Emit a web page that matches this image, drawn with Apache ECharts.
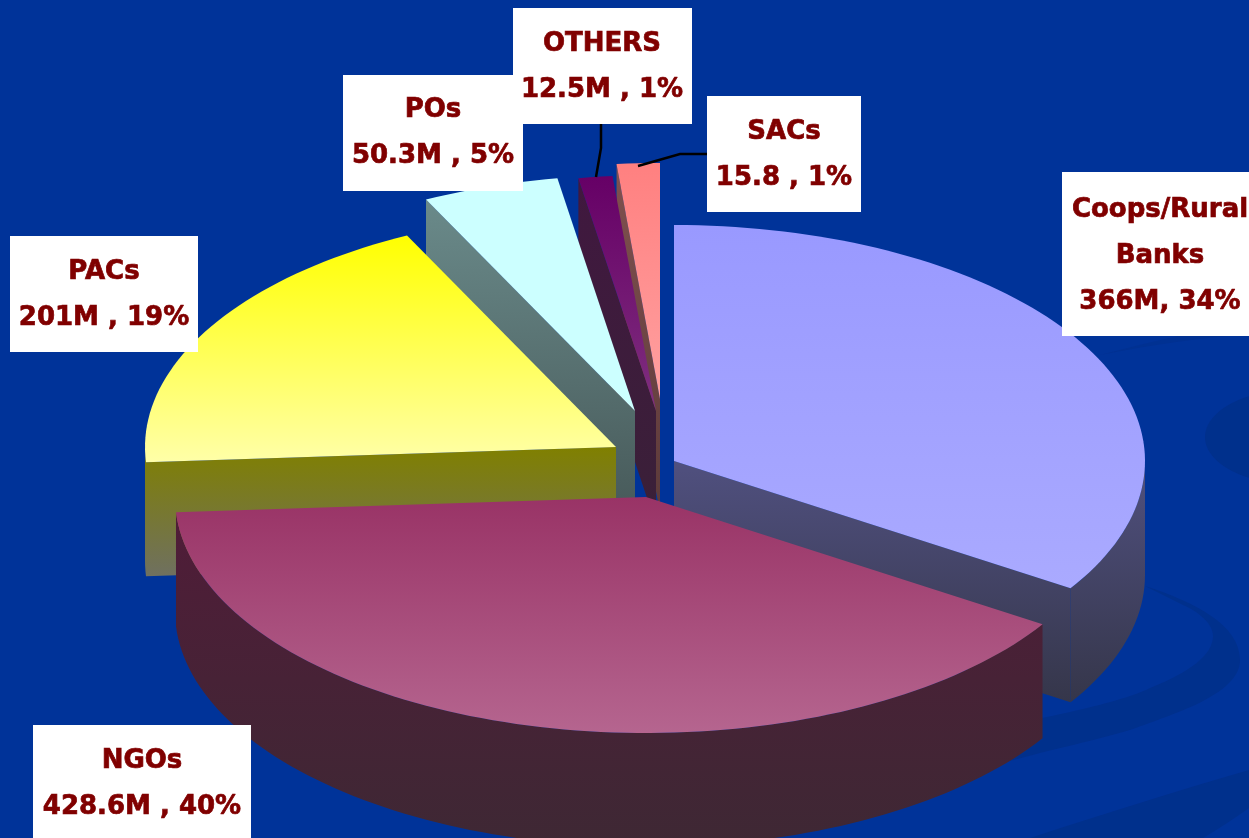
<!DOCTYPE html>
<html>
<head>
<meta charset="utf-8">
<title>Pie</title>
<script src="https://cdn.jsdelivr.net/npm/echarts@6/dist/echarts.min.js"></script>
<style>
html, body { margin: 0; padding: 0; background: #003399; overflow: hidden; }
#chart { width: 1249px; height: 838px; }
</style>
</head>
<body>
<div id="chart"></div>
<script>
// data, clockwise from 12 o'clock
var sliceNames = ['Coops/Rural Banks', 'NGOs', 'PACs', 'POs', 'OTHERS', 'SACs'];
var sliceValues = [366, 428.6, 201, 50.3, 12.5, 15.8];

var labelTitles = [['Coops/Rural', 'Banks'], ['NGOs'], ['PACs'], ['POs'], ['OTHERS'], ['SACs']];
var labelValues = ['366M, 34%', '428.6M , 40%', '201M , 19%', '50.3M , 5%', '12.5M , 1%', '15.8 , 1%'];

// look of the pie
var sliceCenters = [[674, 461], [646, 497], [616, 447], [635, 411], [656, 411], [660, 399]];
var sliceLayers = [4, 5, 3, 2, 1, 0];
var topColors = [['#9999ff', '#aaaaff'], ['#993366', '#b5658f'], ['#ffff00', '#ffffa8'], ['#ccffff', '#ccffff'], ['#660066', '#7f2f7f'], ['#ff8080', '#ffa0a0']];
var sideColors = [['#50507f', '#35364a'], ['#501c38', '#3e2834'], ['#808000', '#6f7060'], ['#6a8a8a', '#465858'], ['#40183f', '#3a2038'], ['#80504f', '#5c3a3a']];
var radiusX = 471, radiusY = 236, depth = 114;

// label boxes: x, y, w, h, center x, first line y
var labelBoxes = [
    [1062, 172, 200, 164, 1160, 210],
    [33, 725, 218, 120, 142, 761],
    [10, 236, 188, 116, 104, 272],
    [343, 75, 180, 116, 433, 110],
    [513, 8, 179, 116, 602, 44],
    [707, 96, 154, 116, 784, 132]
];
var lineGap = 46;
var leaderLines = [
    [[601, 124], [601, 148], [596, 177]],
    [[707, 154], [680, 154], [638, 166]]
];

var total = sliceValues.reduce(function (a, b) { return a + b; }, 0);
var startAngles = [];
sliceValues.reduce(function (sum, v, i) { startAngles[i] = sum / total * 360; return sum + v; }, 0);

function rimPoint(c, deg, drop) {
    var r = deg * Math.PI / 180;
    return [c[0] + radiusX * Math.sin(r), c[1] - radiusY * Math.cos(r) + drop];
}
function arcPoints(c, from, to, drop) {
    var n = Math.max(2, Math.ceil(Math.abs(to - from) / 1.5)), pts = [];
    for (var i = 0; i <= n; i++) pts.push(rimPoint(c, from + (to - from) * i / n, drop));
    return pts;
}
function vGrad(pair) {
    return new echarts.graphic.LinearGradient(0, 0, 0, 1, [
        { offset: 0, color: pair[0] },
        { offset: 1, color: pair[1] }
    ]);
}
function poly(points, fill, z2) {
    return { type: 'polygon', shape: { points: points }, style: { fill: fill }, z2: z2 };
}

function renderSlice(params, api) {
    var i = params.dataIndex;
    var from = startAngles[i];
    var to = from + api.value(0) / total * 360;
    var c = sliceCenters[i];
    var layer = sliceLayers[i] * 10;
    var side = vGrad(sideColors[i]);
    var kids = [];

    // outer wall, only the part facing us
    var wallFrom = Math.max(from, 90), wallTo = Math.min(to, 270);
    if (wallTo > wallFrom) {
        var upper = arcPoints(c, wallFrom, wallTo, 0);
        var lower = arcPoints(c, wallTo, wallFrom, depth);
        kids.push(poly(upper.concat(lower), side, layer));
    }
    // cut faces
    var bottomC = [c[0], c[1] + depth];
    if (from > 180) {
        kids.push(poly([c, rimPoint(c, from, 0), rimPoint(c, from, depth), bottomC], side, layer + 1));
    }
    if (to < 180) {
        kids.push(poly([c, rimPoint(c, to, 0), rimPoint(c, to, depth), bottomC], side, layer + 1));
    }
    // top face
    kids.push(poly([c].concat(arcPoints(c, from, to, 0)), vGrad(topColors[i]), layer + 2));
    return { type: 'group', children: kids };
}

// background swirls
var swirlColor = '#00308c';
function renderSwirls() {
    return {
        type: 'group',
        children: [
            { type: 'ellipse', shape: { cx: 1292, cy: 437, rx: 87, ry: 47 }, style: { fill: swirlColor } },
            { type: 'path', shape: { pathData: 'M1145 586 C1195 602 1240 625 1240 660 C1240 695 1170 715 1133 729 C1090 742 1040 752 1003 763 L1042 718 C1090 708 1130 698 1150 688 C1190 672 1213 655 1213 636 C1213 622 1195 610 1183 605 Z' }, style: { fill: swirlColor } },
            { type: 'path', shape: { pathData: 'M1249 770 C1180 790 1100 815 1030 838 L1203 838 C1220 828 1235 818 1249 808 Z' }, style: { fill: swirlColor } },
            { type: 'path', shape: { pathData: 'M1100 355 C1150 345 1200 338 1249 334 L1249 322 C1200 330 1150 342 1100 355 Z' }, style: { fill: '#003192' } }
        ]
    };
}

var graphics = [];

leaderLines.forEach(function (pts) {
    graphics.push({ type: 'polyline', shape: { points: pts }, style: { stroke: '#000000', lineWidth: 2.5, fill: null }, z: 20 });
});

labelBoxes.forEach(function (b, i) {
    graphics.push({ type: 'rect', shape: { x: b[0], y: b[1], width: b[2], height: b[3] }, style: { fill: '#ffffff' }, z: 30 });
    labelTitles[i].concat(labelValues[i]).forEach(function (line, k) {
        graphics.push({
            type: 'text',
            z: 31,
            style: {
                text: line,
                x: b[4],
                y: b[5] + k * lineGap,
                align: 'center',
                verticalAlign: 'middle',
                fill: '#800000',
                stroke: '#800000',
                lineWidth: 0.7,
                font: 'bold 26px "DejaVu Sans"'
            }
        });
    });
});

var chart = echarts.init(document.getElementById('chart'));
chart.setOption({
    animation: false,
    backgroundColor: '#003399',
    graphic: graphics,
    series: [{
        type: 'custom',
        coordinateSystem: 'none',
        renderItem: renderSwirls,
        silent: true,
        z: 1,
        data: [0]
    }, {
        type: 'custom',
        coordinateSystem: 'none',
        renderItem: renderSlice,
        silent: true,
        z: 10,
        data: sliceValues.map(function (v, i) { return { name: sliceNames[i], value: [v] }; })
    }]
});
</script>
</body>
</html>
